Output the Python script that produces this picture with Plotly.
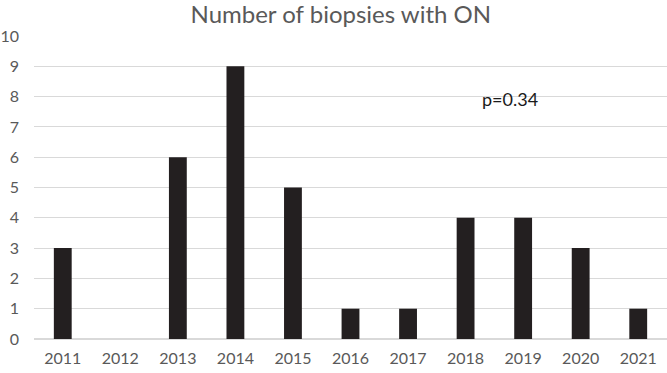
import plotly.graph_objects as go

years = ["2011", "2012", "2013", "2014", "2015", "2016", "2017", "2018", "2019", "2020", "2021"]
counts = [3, 0, 6, 9, 5, 1, 1, 4, 4, 3, 1]
y_ticks = list(range(0, 11))
title_text = "Number of biopsies with ON"
p_label = "p=0.34"

fig = go.Figure(go.Bar(x=years, y=counts, marker=dict(color="#231f20", line=dict(width=0)), width=0.31))

fig.update_layout(
    width=667, height=373,
    margin=dict(l=34, r=0, t=36, b=34, autoexpand=False),
    paper_bgcolor="white", plot_bgcolor="white",
    font=dict(family="Lato, Open Sans, sans-serif", color="#595959", size=15),
    title=dict(text=title_text, x=0.511, xanchor="center", y=0.962, yanchor="middle",
               font=dict(size=24, color="#595959")),
    showlegend=False,
    bargap=0.69,
)
fig.update_xaxes(type="category", showgrid=False, showline=False, ticks="", ticklabelstandoff=8,
                 tickfont=dict(size=16, color="#595959"))
fig.update_yaxes(range=[0, 10], tickvals=y_ticks, showgrid=True, gridcolor="#d9d9d9", gridwidth=1,
                 zeroline=True, zerolinecolor="#d9d9d9", showline=False, ticks="", ticklen=0,
                 ticklabelstandoff=14, tickfont=dict(size=16, color="#595959"))
fig.add_annotation(x=7.78, y=7.93, xref="x", yref="y", text=p_label, showarrow=False,
                   font=dict(size=18, color="#1a1a1a"), xanchor="center", yanchor="middle")

fig.write_html("out.html", config={"displayModeBar": False},
               post_script="document.body.style.margin='0';document.body.style.padding='0';")
